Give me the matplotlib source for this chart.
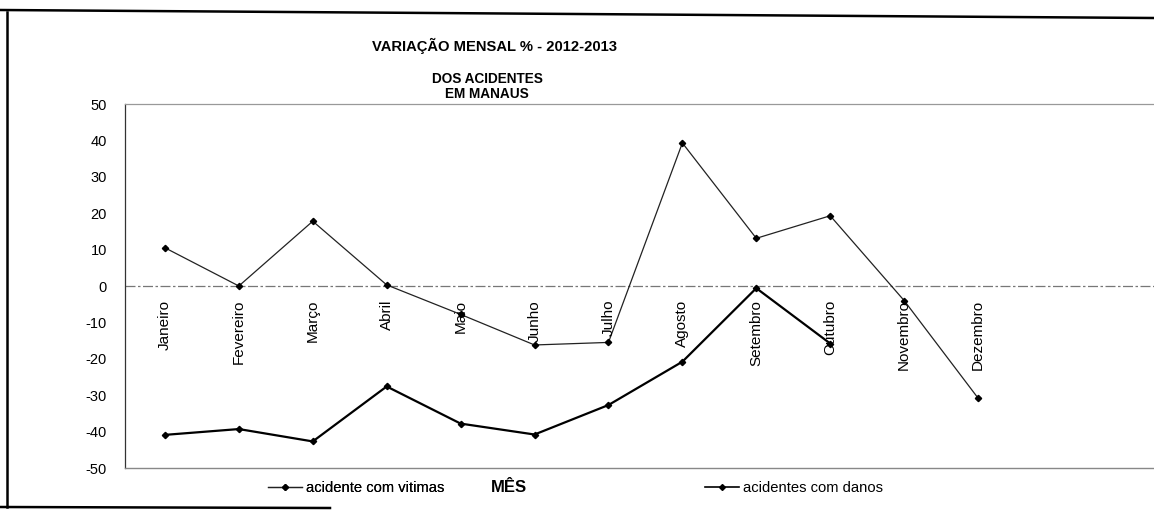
import matplotlib.pyplot as plt
from matplotlib.lines import Line2D

plt.rcParams['font.family'] = ['Liberation Sans', 'DejaVu Sans']
plt.rcParams['axes.unicode_minus'] = False

meses = ['Janeiro', 'Fevereiro', 'Março', 'Abril', 'Maio', 'Junho',
         'Julho', 'Agosto', 'Setembro', 'Outubro', 'Novembro', 'Dezembro']
# variação % mensal
vitimas = [10.5, 0, 17.8, 0.3, -7.8, -16.2, -15.5, 39.3, 13.1, 19.3, -4.0, -30.8]
danos = [-40.9, -39.3, -42.7, -27.6, -37.8, -40.8, -32.7, -20.8, -0.6, -15.8]
yticks = [50, 40, 30, 20, 10, 0, -10, -20, -30, -40, -50]

fig = plt.figure(figsize=(11.54, 5.11), dpi=100)
ax = fig.add_axes([125/1154, 1 - 468/511, 1 - 125/1154, (468 - 104)/511])

x = list(range(len(meses)))
ax.plot(x, vitimas, color='#222222', lw=0.9, marker='D', ms=3.2, mfc='black', mec='black',
        label='acidente com vitimas')
ax.plot(x[:len(danos)], danos, color='black', lw=1.6, marker='D', ms=3.2, mfc='black', mec='black',
        label='acidentes com danos')

ax.axhline(0, color='#777777', lw=0.9, ls=(0, (8, 2, 2, 2)), zorder=0)

for i, m in enumerate(meses):
    ax.annotate(m, (i, 0), xytext=(0, -10), textcoords='offset points',
                rotation=90, ha='center', va='top', fontsize=11)

ax.set_xlim(-0.54, 13.38)
ax.set_ylim(-50, 50)
ax.set_yticks(yticks)
ax.set_xticks([])
ax.tick_params(axis='y', length=0, pad=13, labelsize=10.5)

ax.spines['right'].set_visible(False)
ax.spines['left'].set_color('#333333')
ax.spines['left'].set_linewidth(0.9)
ax.spines['top'].set_color('#999999')
ax.spines['top'].set_linestyle((0, (2, 1)))
ax.spines['top'].set_linewidth(0.9)
ax.spines['bottom'].set_color('#888888')
ax.spines['bottom'].set_linewidth(1.0)

fig.text(494/1154, 1 - 46/511, 'VARIAÇÃO MENSAL % - 2012-2013', ha='center', va='center',
         fontsize=10.6, fontweight='bold')
fig.text(487/1154, 1 - 79/511, 'DOS ACIDENTES', ha='center', va='center',
         fontsize=9.8, fontweight='bold')
fig.text(487/1154, 1 - 94/511, 'EM MANAUS', ha='center', va='center',
         fontsize=9.8, fontweight='bold')

# legend entries and axis title below the plot
h1 = Line2D([0], [0], color='#222222', lw=0.9, marker='D', ms=3, mfc='black', mec='black')
h2 = Line2D([0], [0], color='black', lw=1.2, marker='D', ms=3, mfc='black', mec='black')
leg1 = fig.legend([h1], ['acidente com vitimas'], loc='center left',
                  bbox_to_anchor=(268/1154, 1 - 488/511), frameon=False, fontsize=10.6,
                  handlelength=2.3, handletextpad=0.3, borderaxespad=0, borderpad=0)
fig.legend([h2], ['acidentes com danos'], loc='center left',
           bbox_to_anchor=(705/1154, 1 - 488/511), frameon=False, fontsize=10.6,
           handlelength=2.3, handletextpad=0.3, borderaxespad=0, borderpad=0)
fig.add_artist(leg1)
fig.text(509/1154, 1 - 488/511, 'MÊS', ha='center', va='center', fontsize=12, fontweight='bold')

# outer frame of the scanned page
fig.add_artist(Line2D([0, 1], [1 - 10/511, 1 - 18/511], transform=fig.transFigure,
                      color='black', lw=1.8))
fig.add_artist(Line2D([7/1154, 7/1154], [1 - 12/511, 1 - 507/511], transform=fig.transFigure,
                      color='black', lw=1.8))
fig.add_artist(Line2D([0, 330/1154], [1 - 507/511, 1 - 508/511], transform=fig.transFigure,
                      color='black', lw=1.8))

fig.savefig('out.png', dpi=100)
